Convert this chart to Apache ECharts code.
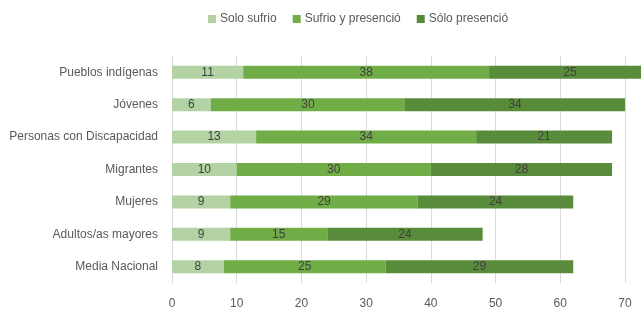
<!DOCTYPE html>
<html><head><meta charset="utf-8">
<script src="https://cdn.jsdelivr.net/npm/echarts@6/dist/echarts.min.js"></script>
<style>html,body{margin:0;padding:0;background:#fff}#c{width:641px;height:311px}</style>
</head><body><div id="c"></div>
<script>
const categories = ["Pueblos indígenas","Jóvenes","Personas con Discapacidad","Migrantes","Mujeres","Adultos/as mayores","Media Nacional"];
const seriesNames = ["Solo sufrio","Sufrio y presenció","Sólo presenció"];
const soloSufrio = [11,6,13,10,9,9,8];
const sufrioPresencio = [38,30,34,30,29,15,25];
const soloPresencio = [25,34,21,28,24,24,29];
const xTicks = [0,10,20,30,40,50,60,70];

const colors = ["#B3D3A5","#70AD47","#588C3A"];
const font = "'Liberation Sans',sans-serif";
const chart = echarts.init(document.getElementById('c'));
const mk = (name, data, i) => ({
  name, type: 'bar', stack: 'a', data, clip: false, barWidth: 13,
  itemStyle: { color: colors[i] },
  label: { show: true, position: 'inside', color: '#404040', fontSize: 12, fontFamily: font },
  emphasis: { disabled: true }
});
chart.setOption({
  animation: false,
  textStyle: { fontFamily: font },
  legend: {
    top: 8, left: 203, itemWidth: 8, itemHeight: 8, itemGap: 16,
    textStyle: { color: '#595959', fontSize: 12, fontFamily: font, padding: [0,0,0,-1] },
    data: seriesNames.map(n => ({ name: n, icon: 'rect' }))
  },
  grid: { left: 172, right: 16, top: 56, bottom: 28, containLabel: false, outerBoundsMode: 'none' },
  xAxis: {
    type: 'value', min: xTicks[0], max: xTicks[xTicks.length-1], interval: 10,
    axisLine: { show: false }, axisTick: { show: false },
    splitLine: { show: true, lineStyle: { color: '#D9D9D9' } },
    axisLabel: { color: '#595959', fontSize: 12, fontFamily: font, margin: 15 }
  },
  yAxis: {
    type: 'category', inverse: true, data: categories,
    axisLine: { show: true, lineStyle: { color: '#D9D9D9' } }, axisTick: { show: false },
    axisLabel: { color: '#595959', fontSize: 12, fontFamily: font, margin: 14 }
  },
  series: [mk(seriesNames[0], soloSufrio, 0), mk(seriesNames[1], sufrioPresencio, 1), mk(seriesNames[2], soloPresencio, 2)]
});
</script></body></html>
